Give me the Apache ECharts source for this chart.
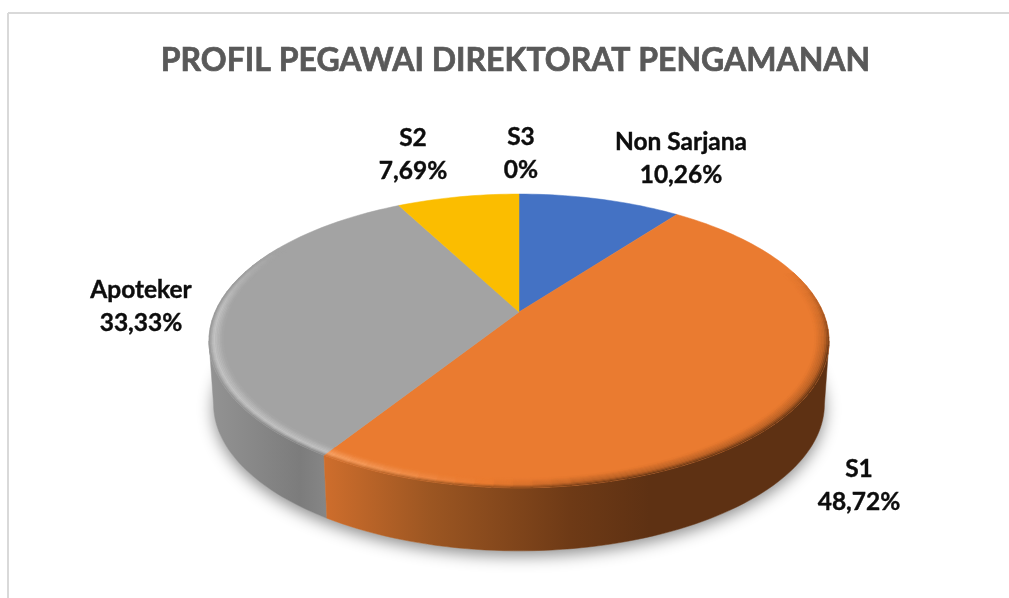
<!DOCTYPE html>
<html><head><meta charset="utf-8">
<style>html,body{margin:0;padding:0;background:#fff}#c{width:1009px;height:598px}</style>
<script src="https://cdn.jsdelivr.net/npm/echarts@6/dist/echarts.min.js"></script>
</head><body><div id="c"></div>
<script>
const titleText = 'PROFIL PEGAWAI DIREKTORAT PENGAMANAN';
const categories = ['Non Sarjana', 'S1', 'Apoteker', 'S2', 'S3'];
const values = [10.26, 48.72, 33.33, 7.69, 0];
const percentLabels = ['10,26%', '48,72%', '33,33%', '7,69%', '0%'];
const colors = ['#4472C4', '#EA7B30', '#A3A3A3', '#FBBD00', '#5B9BD5'];

// Layout of the tilted disc (not data)
const G = {cx: 519, cy: 312, rx: 304, ry: 141.2, k: 0.197, depth: 63, shrink: 0.985, bevel: 0.045, bands: 9};
const labelPos = [[681, 159], [859, 486], [141, 307], [413, 155], [521, 154]];
const sideStops = [
  [[519,'#2f4a80'],[680,'#2f4a80']],
  [[327,'#cd6d2c'],[430,'#9c5622'],[570,'#6e3a16'],[650,'#5e3113'],[830,'#5e3113']],
  [[209,'#939393'],[300,'#7c7c7c'],[331,'#888888']],
  [[400,'#a67d00'],[519,'#a67d00']],
  [[519,'#5B9BD5'],[520,'#5B9BD5']]
];
const toRad = Math.PI / 180;
const total = values.reduce((a, b) => a + b, 0);
const starts = []; values.reduce((acc, v, i) => (starts[i] = acc, acc + v / total * 360), 0);
// Angles where the disc's outline is widest: only the front part between them shows a side wall
const tangentR = Math.acos(-G.k) / toRad, tangentL = 360 - tangentR;

function proj(deg, r) {
  const u = Math.sin(deg * toRad) * r, v = -Math.cos(deg * toRad) * r;
  const f = 1 / (1 - G.k * v);
  return [G.cx + G.rx * u * f, G.cy + G.ry * v * f];
}
function lower(p) { return [G.cx + (p[0] - G.cx) * G.shrink, p[1] + G.depth]; }
function hex(c) { return [1, 3, 5].map(i => parseInt(c.substr(i, 2), 16)); }
function mix(a, b, t) { return a.map((x, i) => x + (b[i] - x) * t); }
function css(c) { return 'rgb(' + c.map(Math.round).join(',') + ')'; }
function clamp(t) { return Math.max(0, Math.min(1, t)); }
function stopsAt(stops, x) {
  if (x <= stops[0][0]) return hex(stops[0][1]);
  for (let i = 1; i < stops.length; i++) if (x <= stops[i][0]) {
    return mix(hex(stops[i-1][1]), hex(stops[i][1]), (x - stops[i-1][0]) / (stops[i][0] - stops[i-1][0]));
  }
  return hex(stops[stops.length - 1][1]);
}
function arc(a0, a1, r, step) {
  const pts = [], n = Math.max(1, Math.ceil((a1 - a0) / step));
  for (let j = 0; j <= n; j++) pts.push(proj(a0 + (a1 - a0) * j / n, r));
  return pts;
}
function bevelInfo(i, deg, x) {
  const base = hex(colors[i]);
  if (i === 1) {
    const fade = clamp((deg - 72) / 35);
    const t = clamp((x - 327) / 260);
    const peak = t < 0.6 ? mix(hex('#f8a468'), base, t / 0.6) : mix(base, mix(base, hex('#5e3113'), 0.35), (t - 0.6) / 0.4);
    return {peak, fade};
  }
  if (i === 2) return {peak: hex('#c4c4c4'), fade: clamp((298 - deg) / 28)};
  return {peak: base, fade: 0};
}

function renderItem(params, api) {
  const i = params.dataIndex, children = [];
  const a0 = starts[i], a1 = a0 + values[i] / total * 360, base = hex(colors[i]);
  if (i === 0) {
    children.push({type: 'polygon', z2: 0, shape: {points: arc(0, 360, 1, 2).map(lower)},
      style: {fill: '#d8d8d8', shadowBlur: 16, shadowColor: 'rgba(0,0,0,0.45)', shadowOffsetY: 5}});
  }
  if (values[i] > 0) {
    const rim = arc(a0, a1, 1, 1.5);
    const st = sideStops[i];
    const x0 = st[0][0], x1 = st[st.length - 1][0];
    const grad = new echarts.graphic.LinearGradient(x0, 0, x1, 0,
      st.map(s => ({offset: (s[0] - x0) / (x1 - x0), color: s[1]})), true);
    const s0 = Math.max(a0, tangentR), s1 = Math.min(a1, tangentL);
    if (s1 > s0) {
      const wall = arc(s0, s1, 1, 1.5);
      children.push({type: 'polygon', z2: i === 1 ? 3 : 2,
        shape: {points: wall.concat(wall.map(lower).reverse())},
        style: {fill: grad, stroke: grad, lineWidth: 0.5}});
    }
    children.push({type: 'polygon', z2: 10,
      shape: {points: [[G.cx, G.cy]].concat(rim)},
      style: {fill: colors[i], stroke: colors[i], lineWidth: 0.5}});
    if (i === 1 || i === 2) {
      const step = 3;
      for (let b = 0; b < G.bands; b++) {
        const t = (b + 0.5) / G.bands;
        const r = 1 - t * G.bevel, wd = G.bevel / G.bands;
        for (let d = a0; d < a1 - 0.01; d += step) {
          const e = Math.min(a1, d + step), mid = (d + e) / 2;
          const pm = proj(mid, r);
          const info = bevelInfo(i, mid, pm[0]);
          if (info.fade <= 0) continue;
          const outer = stopsAt(st, pm[0]);
          let c = t < 0.35 ? mix(outer, info.peak, t / 0.35) : mix(info.peak, base, (t - 0.35) / 0.65);
          c = mix(base, c, info.fade);
          const pts = [proj(d, r + wd / 2), proj(Math.min(a1, e + 0.3), r + wd / 2),
                       proj(Math.min(a1, e + 0.3), r - wd / 2), proj(d, r - wd / 2)];
          children.push({type: 'polygon', z2: 11 + b, shape: {points: pts},
            style: {fill: css(c), stroke: css(c), lineWidth: 0.4}});
        }
      }
    }
  }
  children.push({type: 'text', z2: 40, style: {
    text: categories[i] + '\n' + percentLabels[i], x: labelPos[i][0], y: labelPos[i][1],
    align: 'center', verticalAlign: 'middle', lineHeight: 33,
    fontFamily: 'Lato', fontWeight: 'bold', fontSize: 24.5, fill: '#0d0d0d',
    stroke: '#0d0d0d', lineWidth: 0.4}});
  return {type: 'group', children};
}

const chart = echarts.init(document.getElementById('c'), null, {renderer: 'canvas'});
chart.setOption({
  backgroundColor: '#fff', animation: false,
  title: {text: titleText, left: 510.5, top: 40, textAlign: 'center',
    textStyle: {fontFamily: 'Lato', fontWeight: 'bold', fontSize: 32, color: '#595959',
      textBorderColor: '#595959', textBorderWidth: 0.7}},
  graphic: [
    {type: 'line', shape: {x1: 8, y1: 13, x2: 1009, y2: 13}, style: {stroke: '#d9d9d9', lineWidth: 2}},
    {type: 'line', shape: {x1: 8, y1: 13, x2: 8, y2: 598}, style: {stroke: '#d9d9d9', lineWidth: 2}}
  ],
  series: [{type: 'custom', coordinateSystem: 'none', silent: true, renderItem,
    data: categories.map((n, i) => ({name: n, value: values[i]}))}]
});
</script></body></html>
